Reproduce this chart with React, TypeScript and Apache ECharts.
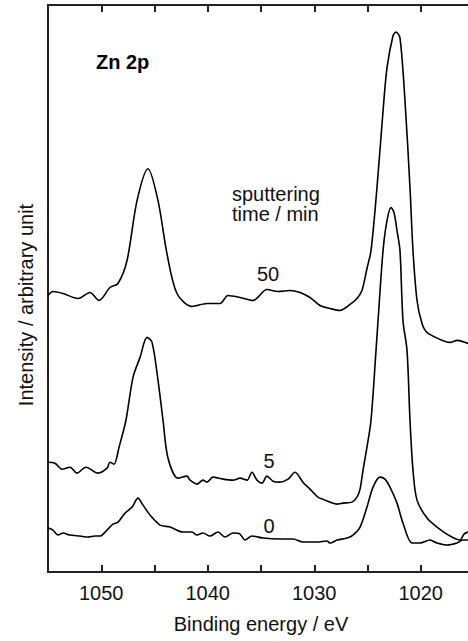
import React, { useEffect, useRef } from 'react';
import * as echarts from 'echarts';

// Binding energy (eV) and intensity (arbitrary unit, offset-stacked as in the figure)
const energy50 = [1055.0, 1054.53, 1053.59, 1052.18, 1051.06, 1050.21, 1049.18, 1048.43, 1047.58, 1046.64, 1045.61, 1044.67, 1043.83, 1042.89, 1041.48, 1040.07, 1038.85, 1038.1, 1036.97, 1035.75, 1034.44, 1033.4, 1032.28, 1031.34, 1030.4, 1029.46, 1028.52, 1027.58, 1026.64, 1025.99, 1025.52, 1025.05, 1024.67, 1024.11, 1023.54, 1023.17, 1022.61, 1022.32, 1021.95, 1021.48, 1021.01, 1020.73, 1020.35, 1019.88, 1019.41, 1018.19, 1017.25, 1016.6, 1015.56];
const counts50 = [277, 281, 279, 274, 280, 272, 285, 289, 312, 372, 404, 372, 319, 279, 266, 269, 269, 277, 275, 272, 283, 281, 282, 280, 275, 267, 264, 262, 268, 274, 282, 304, 322, 385, 462, 505, 537, 541, 535, 472, 385, 322, 272, 249, 240, 233, 230, 232, 229];

const energy5 = [1055.0, 1054.34, 1053.69, 1052.93, 1052.28, 1051.43, 1050.31, 1049.46, 1049.18, 1048.8, 1048.33, 1047.68, 1047.02, 1046.36, 1045.7, 1045.23, 1044.67, 1044.2, 1043.73, 1042.79, 1041.95, 1041.67, 1041.01, 1040.45, 1040.07, 1039.51, 1038.57, 1037.63, 1036.97, 1036.31, 1035.85, 1035.38, 1034.91, 1034.44, 1033.87, 1033.22, 1032.46, 1031.81, 1031.06, 1030.4, 1029.65, 1028.99, 1028.52, 1027.86, 1027.3, 1026.46, 1025.99, 1025.7, 1025.42, 1025.05, 1024.67, 1024.2, 1024.01, 1023.54, 1023.17, 1022.79, 1022.51, 1022.23, 1021.95, 1021.67, 1021.29, 1021.01, 1020.73, 1020.35, 1019.41, 1018.47, 1017.25, 1016.31, 1015.94, 1015.56];
const counts5 = [110, 109, 103, 105, 99, 105, 99, 104, 110, 108, 125, 152, 195, 215, 235, 230, 192, 152, 114, 94, 96, 92, 88, 92, 90, 95, 93, 92, 94, 92, 100, 92, 89, 96, 91, 90, 93, 100, 90, 83, 75, 72, 70, 68, 69, 70, 75, 83, 102, 125, 152, 222, 252, 322, 352, 365, 360, 342, 322, 252, 222, 152, 102, 72, 54, 45, 36, 32, 38, 40];

const energy0 = [1055.0, 1054.53, 1054.06, 1053.59, 1052.93, 1052.0, 1051.24, 1050.59, 1050.12, 1049.46, 1048.9, 1048.43, 1047.77, 1047.11, 1046.55, 1046.08, 1045.42, 1044.48, 1043.54, 1042.32, 1041.48, 1041.01, 1040.45, 1039.79, 1039.04, 1038.38, 1037.63, 1036.97, 1036.5, 1035.85, 1034.81, 1033.22, 1032.0, 1031.06, 1029.74, 1028.8, 1028.52, 1027.86, 1026.92, 1026.36, 1025.7, 1025.05, 1024.48, 1023.83, 1023.36, 1022.89, 1022.23, 1021.67, 1020.82, 1020.07, 1019.13, 1018.47, 1017.54, 1016.6, 1016.03, 1015.56];
const counts0 = [44, 42, 37, 39, 37, 36, 35, 36, 36, 42, 48, 50, 59, 65, 74, 67, 57, 47, 45, 40, 40, 37, 39, 36, 40, 35, 39, 38, 32, 36, 34, 33, 33, 30, 30, 31, 29, 32, 34, 37, 45, 65, 85, 95, 93, 85, 69, 49, 29, 29, 32, 29, 27, 29, 32, 32];

const xTicks = [1050, 1040, 1030, 1020];
const xRange = [1015, 1055];
const yRange = [0, 568];

const FONT = "'Liberation Sans', Arial, Helvetica, sans-serif";
const AXIS = '#222';

function zip(xs: number[], ys: number[]) {
  return xs.map((x, i) => [x, ys[i]]);
}

export default function App() {
  const ref = useRef<HTMLDivElement>(null);
  useEffect(() => {
    const chart = echarts.init(ref.current!, null, { renderer: 'svg' });
    const lineSeries = (name: string, xs: number[], ys: number[]) => ({
      name,
      type: 'line',
      data: zip(xs, ys),
      showSymbol: false,
      smooth: 0.3,
      lineStyle: { color: '#000', width: 1.6 },
    });
    const xBase = {
      type: 'value',
      min: xRange[0],
      max: xRange[1],
      interval: 5,
      inverse: true,
      splitLine: { show: false },
    };
    chart.setOption({
      animation: false,
      grid: {
        left: 48,
        right: 0,
        top: 5,
        bottom: 69,
        outerBoundsMode: 'none',
        show: true,
        borderColor: AXIS,
        borderWidth: 2,
      },
      xAxis: [
        {
          ...xBase,
          position: 'bottom',
          axisLine: { show: true, onZero: false, lineStyle: { color: AXIS, width: 2 } },
          axisTick: { show: true, inside: true, length: 7, lineStyle: { color: AXIS, width: 2 } },
          axisLabel: {
            formatter: (v: number) => (xTicks.indexOf(v) >= 0 ? String(v) : ''),
            fontSize: 20,
            color: '#111',
            margin: 11,
            fontFamily: FONT,
          },
          name: 'Binding energy / eV',
          nameLocation: 'middle',
          nameGap: 42,
          nameTextStyle: { fontSize: 20, color: '#111', fontFamily: FONT },
        },
        {
          ...xBase,
          position: 'top',
          axisLine: { show: true, onZero: false, lineStyle: { color: AXIS, width: 2 } },
          axisTick: { show: true, inside: true, length: 7, lineStyle: { color: AXIS, width: 2 } },
          axisLabel: { show: true, color: 'rgba(0,0,0,0)', fontSize: 1 },
        },
      ],
      yAxis: {
        type: 'value',
        min: yRange[0],
        max: yRange[1],
        axisLine: { show: true, onZero: false, lineStyle: { color: AXIS, width: 2 } },
        axisTick: { show: false },
        axisLabel: { show: false },
        splitLine: { show: false },
      },
      series: [
        lineSeries('50 min', energy50, counts50),
        lineSeries('5 min', energy5, counts5),
        lineSeries('0 min', energy0, counts0),
      ],
      graphic: [
        {
          type: 'text',
          x: 26,
          y: 305,
          rotation: Math.PI / 2,
          style: {
            text: 'Intensity / arbitrary unit',
            fontSize: 20,
            fontFamily: FONT,
            fill: '#111',
            align: 'center',
            verticalAlign: 'middle',
          },
        },
        {
          type: 'text',
          x: 96,
          y: 62,
          style: { text: 'Zn 2p', fontSize: 20, fontWeight: 'bold', fontFamily: FONT, fill: '#000', align: 'left', verticalAlign: 'middle' },
        },
        {
          type: 'text',
          x: 232,
          y: 194,
          style: { text: 'sputtering', fontSize: 20, fontFamily: FONT, fill: '#111', align: 'left', verticalAlign: 'middle' },
        },
        {
          type: 'text',
          x: 232,
          y: 214,
          style: { text: 'time / min', fontSize: 20, fontFamily: FONT, fill: '#111', align: 'left', verticalAlign: 'middle' },
        },
        {
          type: 'text',
          x: 268,
          y: 274,
          style: { text: '50', fontSize: 20, fontFamily: FONT, fill: '#111', align: 'center', verticalAlign: 'middle' },
        },
        {
          type: 'text',
          x: 269,
          y: 461,
          style: { text: '5', fontSize: 20, fontFamily: FONT, fill: '#111', align: 'center', verticalAlign: 'middle' },
        },
        {
          type: 'text',
          x: 269,
          y: 526,
          style: { text: '0', fontSize: 20, fontFamily: FONT, fill: '#111', align: 'center', verticalAlign: 'middle' },
        },
      ],
    });
    return () => chart.dispose();
  }, []);
  return (
    <div style={{ position: 'fixed', left: 0, top: 0, width: 468, height: 641, overflow: 'hidden', background: '#fff' }}>
      <div ref={ref} style={{ position: 'absolute', left: 0, top: 0, width: 474, height: 641 }} />
    </div>
  );
}
